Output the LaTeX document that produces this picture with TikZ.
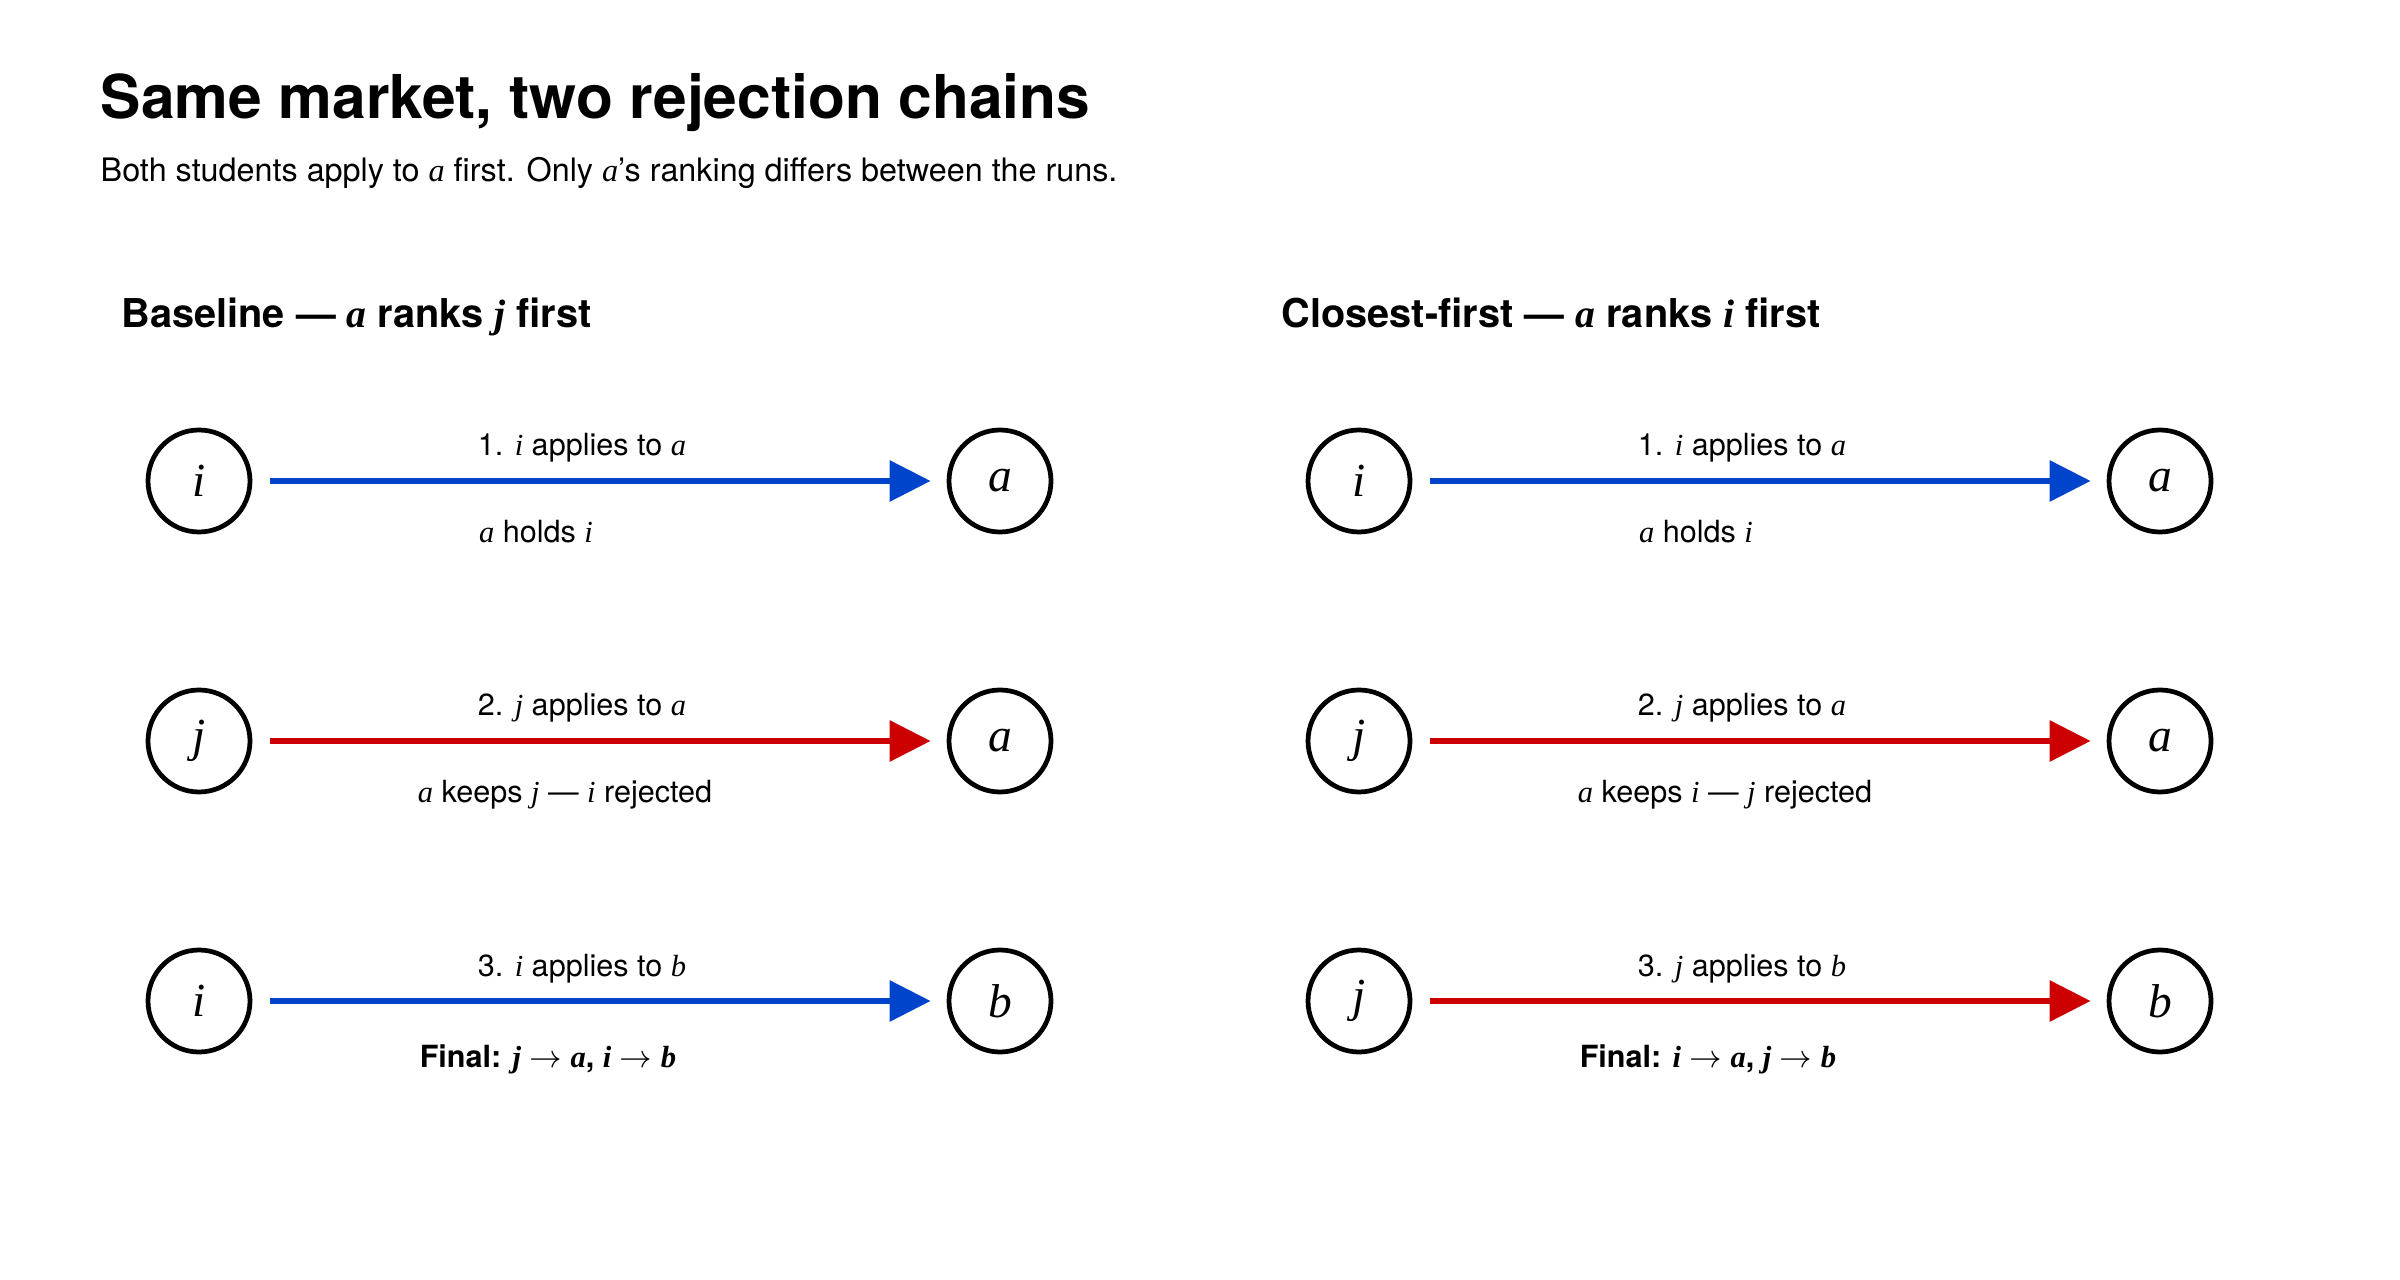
\documentclass[tikz,border=0pt]{standalone}
\usepackage{fontspec}
\setmainfont{TeX Gyre Heros}
\newfontfamily\mathserif{Liberation Serif}
\newcommand{\mv}[1]{{\mathserif\itshape #1}}
\usepackage{tikz}
\usetikzlibrary{
  arrows.meta,
  positioning
}
\definecolor{applycolor}{RGB}{0, 68, 204}
\definecolor{rejectcolor}{RGB}{204, 0, 0}
\definecolor{labelcolor}{RGB}{0, 0, 0}
\tikzset{
agentnode/.style={
  circle,
  draw=black,
  line width=1.35pt,
  minimum size=10.2mm,
  inner sep=0pt,
  font=\fontsize{13.5}{15}\selectfont\mathserif\itshape
},
titlelabel/.style={
  font=\bfseries\fontsize{17.2}{20}\selectfont,
  text=labelcolor,
  inner sep=0pt,
  anchor=base west
},
subtitlelabel/.style={
  font=\fontsize{9.2}{11}\selectfont,
  text=labelcolor,
  inner sep=0pt,
  anchor=base west
},
panellabel/.style={
  font=\bfseries\fontsize{11.3}{13}\selectfont,
  text=labelcolor,
  inner sep=0pt,
  anchor=base west
},
steplabel/.style={
  font=\fontsize{8.7}{10}\selectfont,
  text=labelcolor,
  inner sep=0pt,
  anchor=base
},
applyarrow/.style={
  -{Triangle[length=4.1mm,width=4mm]},
  line width=1.75pt,
  draw=applycolor,
  shorten <=1.8mm,
  shorten >=1.6mm
},
rejectarrow/.style={
  applyarrow,
  draw=rejectcolor
}
}

\begin{document}
\begin{tikzpicture}
  \useasboundingbox (0,0) rectangle (24,-12.8);
  \def\rowH{2.60}
  \def\sx{1.99}
  \def\cx{10.00}

  % --- header ---
  \node[titlelabel] (title) at (1.00,-1.19) {Same market, two rejection chains};
  \node[subtitlelabel] (subtitle) at (1.00,-1.82)
    {Both students apply to \mv{a} first. Only \mv{a}’s ranking differs between the runs.};

  % --- Baseline ---
  \def\dx{0}
  \node[panellabel] (blabel) at (1.21+\dx,-3.28) {Baseline — \mv{a} ranks \mv{j} first};

  \def\r{0}
  \node[agentnode] (b1s) at (\sx+\dx,-4.81-\r*\rowH) {i};
  \node[agentnode] (b1c) at (\cx+\dx,-4.81-\r*\rowH) {a};
  \draw[applyarrow] (b1s) -- (b1c);
  \node[steplabel] (b1top) at (5.82+\dx,-4.56-\r*\rowH) {1. \mv{i} applies to \mv{a}};
  \node[steplabel] (b1bot) at (5.36+\dx,-5.43-\r*\rowH) {\mv{a} holds \mv{i}};

  \def\r{1}
  \node[agentnode] (b2s) at (\sx+\dx,-4.81-\r*\rowH) {j};
  \node[agentnode] (b2c) at (\cx+\dx,-4.81-\r*\rowH) {a};
  \draw[rejectarrow] (b2s) -- (b2c);
  \node[steplabel] (b2top) at (5.82+\dx,-4.56-\r*\rowH) {2. \mv{j} applies to \mv{a}};
  \node[steplabel] (b2bot) at (5.65+\dx,-5.42-\r*\rowH) {\mv{a} keeps \mv{j} — \mv{i} rejected};

  \def\r{2}
  \node[agentnode] (b3s) at (\sx+\dx,-4.81-\r*\rowH) {i};
  \node[agentnode] (b3c) at (\cx+\dx,-4.81-\r*\rowH) {b};
  \draw[applyarrow] (b3s) -- (b3c);
  \node[steplabel] (b3top) at (5.82+\dx,-4.56-\r*\rowH) {3. \mv{i} applies to \mv{b}};
  \node[steplabel, font=\bfseries\fontsize{8.7}{10}\selectfont] (b3bot) at (5.48+\dx,-5.47-\r*\rowH)
    {Final: \mv{j} $\rightarrow$ \mv{a}, \mv{i} $\rightarrow$ \mv{b}};

  % --- Closest-first ---
  \def\dx{11.60}
  \node[panellabel] (clabel) at (1.21+\dx,-3.28) {Closest-first — \mv{a} ranks \mv{i} first};

  \def\r{0}
  \node[agentnode] (c1s) at (\sx+\dx,-4.81-\r*\rowH) {i};
  \node[agentnode] (c1c) at (\cx+\dx,-4.81-\r*\rowH) {a};
  \draw[applyarrow] (c1s) -- (c1c);
  \node[steplabel] (c1top) at (5.82+\dx,-4.56-\r*\rowH) {1. \mv{i} applies to \mv{a}};
  \node[steplabel] (c1bot) at (5.36+\dx,-5.43-\r*\rowH) {\mv{a} holds \mv{i}};

  \def\r{1}
  \node[agentnode] (c2s) at (\sx+\dx,-4.81-\r*\rowH) {j};
  \node[agentnode] (c2c) at (\cx+\dx,-4.81-\r*\rowH) {a};
  \draw[rejectarrow] (c2s) -- (c2c);
  \node[steplabel] (c2top) at (5.82+\dx,-4.56-\r*\rowH) {2. \mv{j} applies to \mv{a}};
  \node[steplabel] (c2bot) at (5.65+\dx,-5.42-\r*\rowH) {\mv{a} keeps \mv{i} — \mv{j} rejected};

  \def\r{2}
  \node[agentnode] (c3s) at (\sx+\dx,-4.81-\r*\rowH) {j};
  \node[agentnode] (c3c) at (\cx+\dx,-4.81-\r*\rowH) {b};
  \draw[rejectarrow] (c3s) -- (c3c);
  \node[steplabel] (c3top) at (5.82+\dx,-4.56-\r*\rowH) {3. \mv{j} applies to \mv{b}};
  \node[steplabel, font=\bfseries\fontsize{8.7}{10}\selectfont] (c3bot) at (5.48+\dx,-5.47-\r*\rowH)
    {Final: \mv{i} $\rightarrow$ \mv{a}, \mv{j} $\rightarrow$ \mv{b}};
\end{tikzpicture}
\end{document}
